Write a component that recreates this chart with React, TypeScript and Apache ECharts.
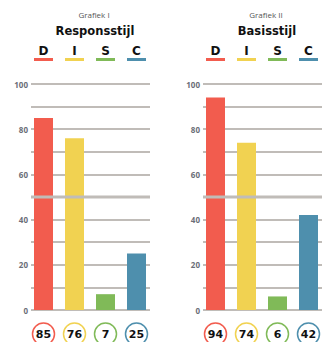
import React, { useEffect, useRef } from "react";
import * as echarts from "echarts";

const LETTERS = ["D", "I", "S", "C"];
const COLORS = ["#F25C4E", "#F1D251", "#80BA58", "#4E8FAD"];
const RESPONS = [85, 76, 7, 25];
const BASIS = [94, 74, 6, 42];
const PANEL_SUBTITLES = ["Grafiek I", "Grafiek II"];
const PANEL_TITLES = ["Responsstijl", "Basisstijl"];
const Y_MIN = 0;
const Y_MAX = 100;
const Y_STEP = 10;
const MIDLINE = 50;

const FONT = "'Open Sans', 'Noto Sans', sans-serif";
const WIDE_FONT = "'DejaVu Sans', 'Open Sans', sans-serif";
const GRID_COLOR = "#c0bcb8";

export default function App() {
  const ref = useRef<HTMLDivElement>(null);
  useEffect(() => {
    document.body.style.margin = "0";
    const chart = echarts.init(ref.current!, undefined, { renderer: "svg" });
    const panels = [RESPONS, BASIS];
    const offsets = [0, 172];
    const grids: any[] = [];
    const xAxes: any[] = [];
    const yAxes: any[] = [];
    const series: any[] = [];
    const titles: any[] = [];

    panels.forEach((values, p) => {
      const dx = offsets[p];
      const gLines = grids.length;
      grids.push({ left: 31 + dx, width: 119, top: 84, height: 226, outerBoundsMode: "none", containLabel: false });
      const gBars = grids.length;
      grids.push({ left: 28 + dx, width: 124, top: 84, height: 226, outerBoundsMode: "none", containLabel: false });

      titles.push({
        text: PANEL_SUBTITLES[p],
        left: 89 + dx,
        top: 5,
        textAlign: "center",
        textStyle: { fontFamily: FONT, fontSize: 8, fontWeight: "normal", color: "#555" },
      });
      titles.push({
        text: PANEL_TITLES[p],
        left: 90 + dx,
        top: 20,
        textAlign: "center",
        textStyle: { fontFamily: WIDE_FONT, fontSize: 11.5, fontWeight: "bold", color: "#111" },
      });

      const xLines = xAxes.length;
      xAxes.push({ type: "value", gridIndex: gLines, min: 0, max: 1, show: false });
      const yLines = yAxes.length;
      yAxes.push({
        type: "value",
        gridIndex: gLines,
        min: Y_MIN,
        max: Y_MAX,
        interval: Y_STEP,
        axisLine: { show: false },
        axisTick: { show: false },
        axisLabel: {
          margin: 3,
          fontFamily: FONT,
          fontSize: 8,
          fontWeight: "bold",
          color: "#6b6e78",
          formatter: (v: number) => (v % 20 === 0 ? String(v) : ""),
        },
        splitLine: { show: true, lineStyle: { color: GRID_COLOR, width: 2 } },
      });

      xAxes.push({
        type: "category",
        gridIndex: gBars,
        position: "top",
        data: LETTERS,
        axisLine: { show: false },
        axisTick: { show: false },
        axisLabel: {
          margin: 23,
          interval: 0,
          formatter: (v: string, i: number) => `{l|${v}}\n{u${i}|}`,
          rich: Object.fromEntries([
            ["l", { fontFamily: WIDE_FONT, fontSize: 12, fontWeight: "bold", color: "#111", lineHeight: 15, align: "center" }],
            ...COLORS.map((c, i) => [`u${i}`, { width: 19, height: 3, backgroundColor: c, align: "center" }]),
          ]),
        },
      });
      const xBottom = xAxes.length;
      xAxes.push({
        type: "category",
        gridIndex: gBars,
        position: "bottom",
        data: LETTERS,
        axisLine: { show: false },
        axisTick: { show: false },
        axisLabel: {
          margin: 13,
          interval: 0,
          formatter: (_v: string, i: number) => `{c${i}|${values[i]}}`,
          rich: Object.fromEntries(
            COLORS.map((c, i) => [
              `c${i}`,
              {
                width: 22,
                height: 22,
                lineHeight: 22,
                borderRadius: 12,
                borderColor: c,
                borderWidth: 1.5,
                align: "center",
                fontFamily: WIDE_FONT,
                fontSize: 11,
                fontWeight: "bold",
                color: "#111",
              },
            ])
          ),
        },
      });
      const yBars = yAxes.length;
      yAxes.push({ type: "value", gridIndex: gBars, min: Y_MIN, max: Y_MAX, show: false });

      series.push({
        type: "bar",
        xAxisIndex: xBottom,
        yAxisIndex: yBars,
        barWidth: 19,
        z: 2,
        data: values.map((v, i) => ({ value: v, itemStyle: { color: COLORS[i] } })),
      });
      series.push({
        type: "line",
        xAxisIndex: xLines,
        yAxisIndex: yLines,
        symbol: "none",
        silent: true,
        z: 5,
        lineStyle: { color: GRID_COLOR, width: 3 },
        data: [
          [0, MIDLINE],
          [1, MIDLINE],
        ],
      });
    });

    chart.setOption({
      animation: false,
      title: titles,
      grid: grids,
      xAxis: xAxes,
      yAxis: yAxes,
      series,
    });
    return () => chart.dispose();
  }, []);
  return <div ref={ref} style={{ width: 326, height: 342 }} />;
}
